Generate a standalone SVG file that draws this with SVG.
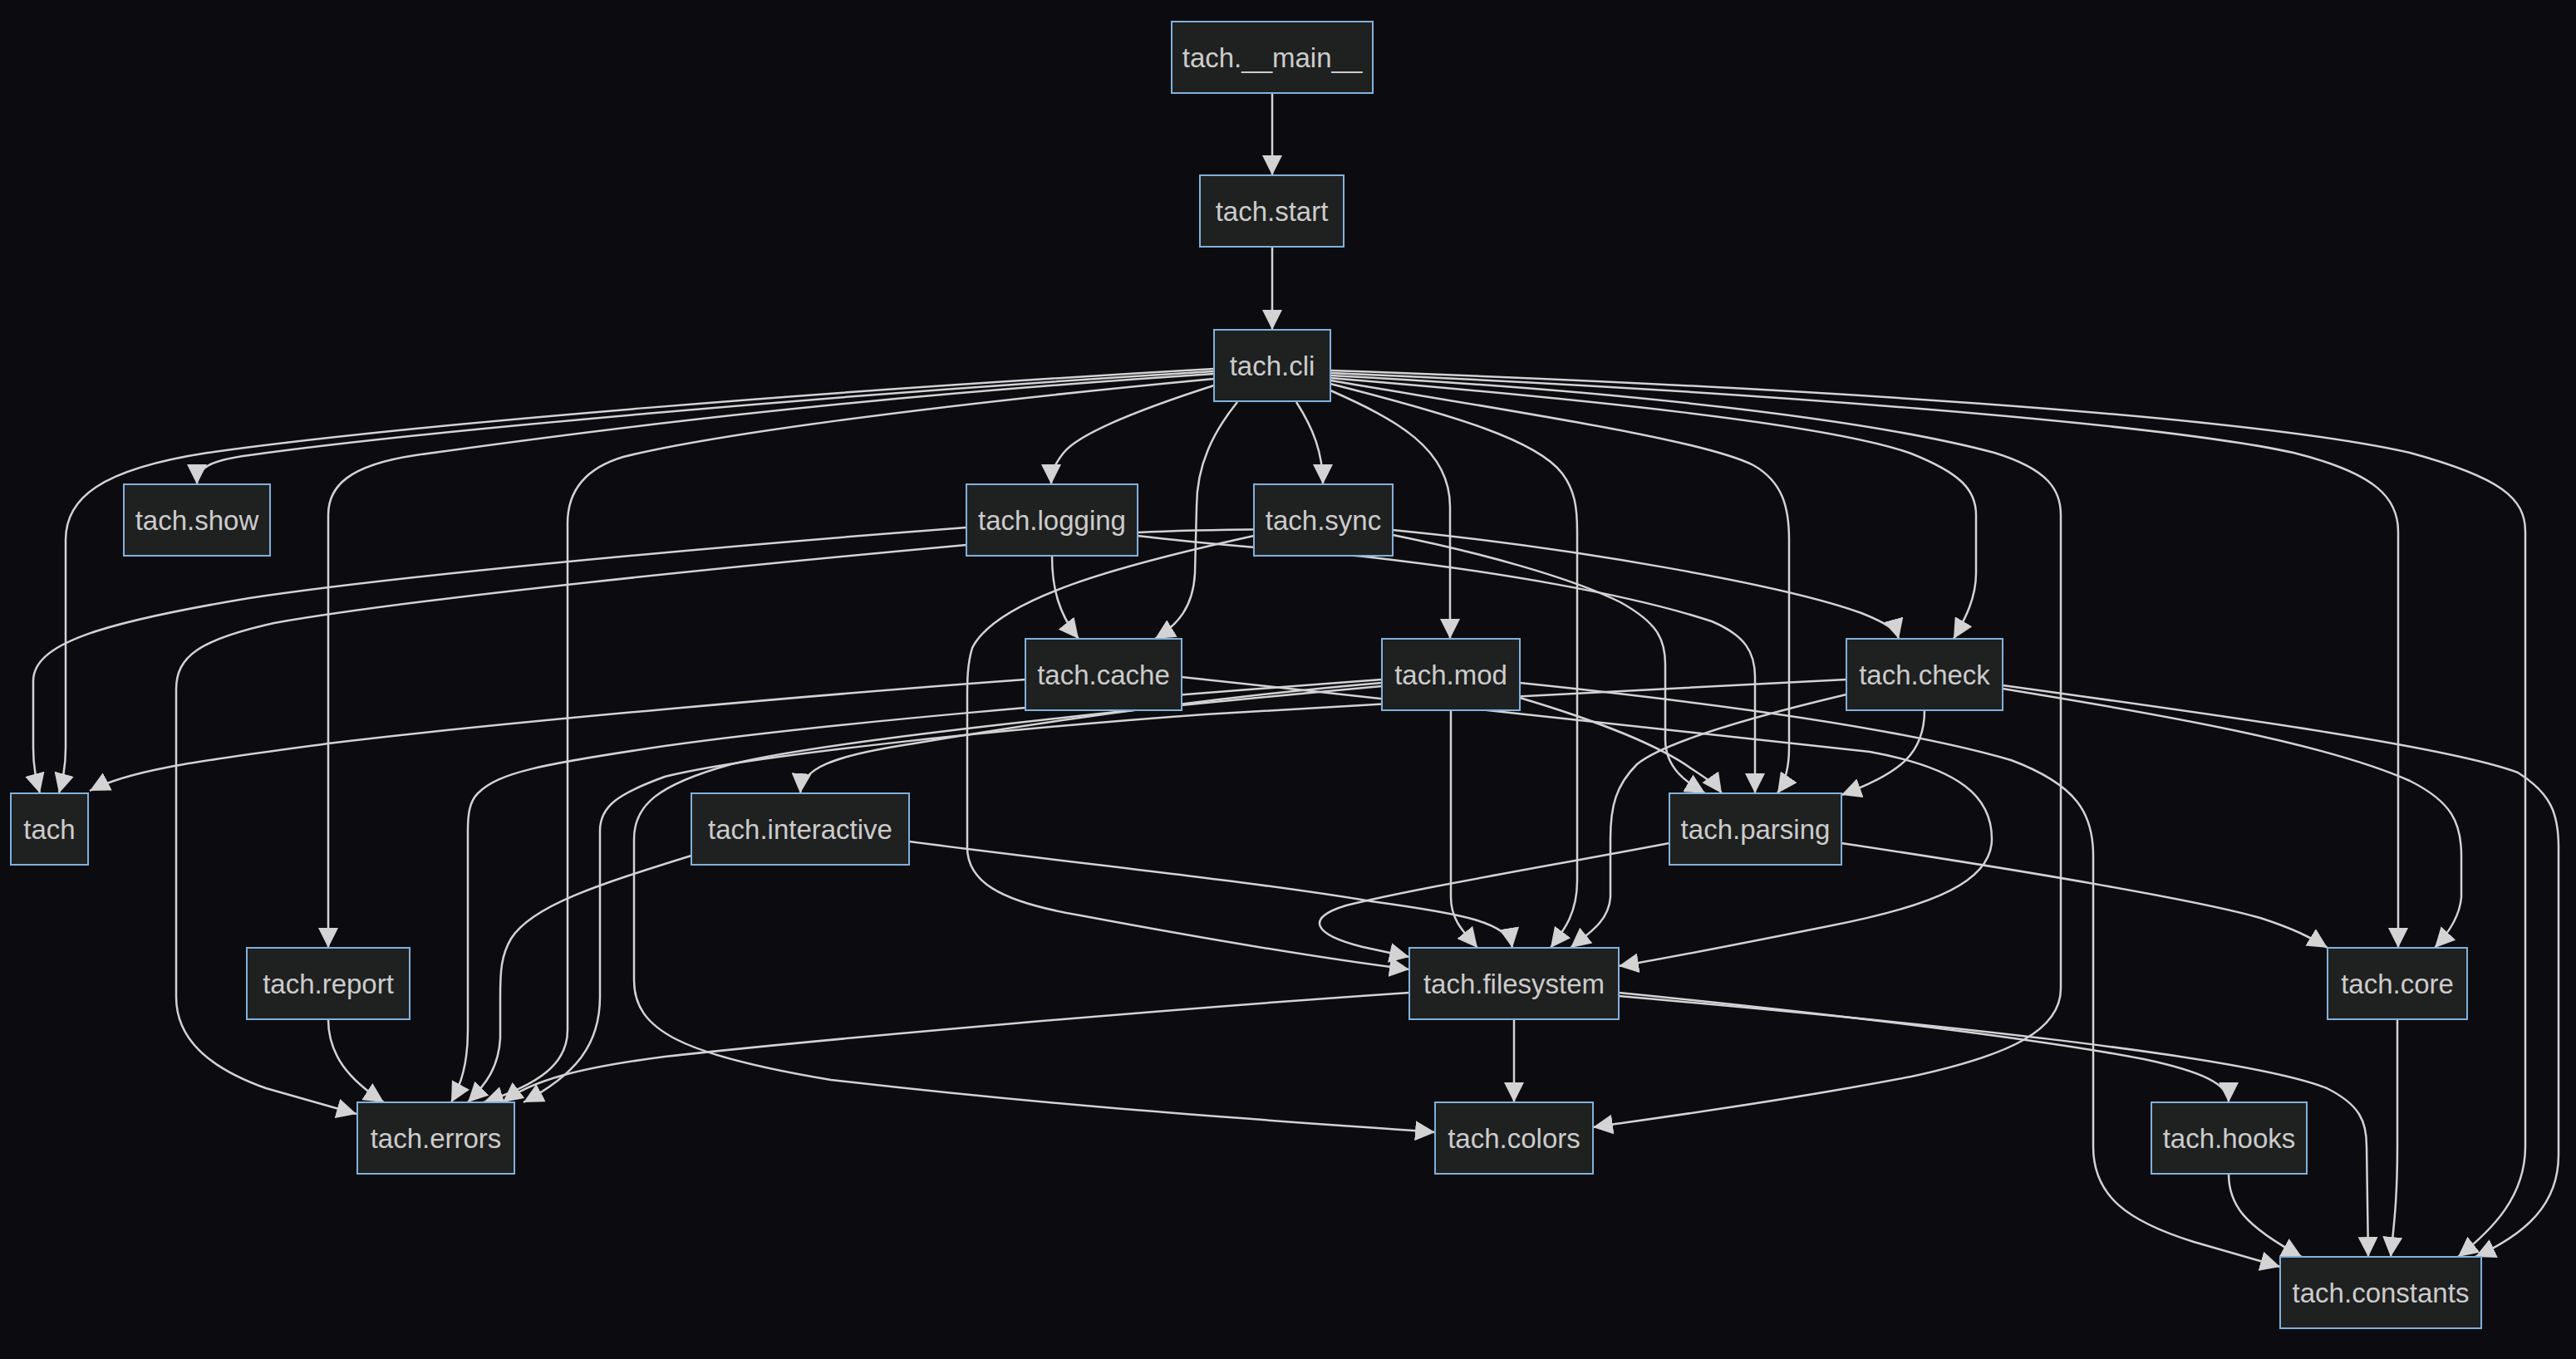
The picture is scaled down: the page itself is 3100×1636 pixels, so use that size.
<svg xmlns="http://www.w3.org/2000/svg" width="3100" height="1636" viewBox="0 0 3100 1636">
<defs>
<marker id="arrow" viewBox="0 0 12 12" refX="12" refY="6" markerWidth="24" markerHeight="24" markerUnits="userSpaceOnUse" orient="auto"><path d="M0,0 L12,6 L0,12 z" fill="#d3d3d3"/></marker>
<style>
.edge{fill:none;stroke:#d3d3d3;stroke-width:2.5;marker-end:url(#arrow)}
.node rect{fill:#1f2020;stroke:#81b1db;stroke-width:2}
.node text{fill:#cccccc;font-family:"Trebuchet MS","Liberation Sans",Arial,sans-serif;font-size:33px;text-anchor:middle}
</style>
</defs>
<rect x="0" y="0" width="3100" height="1636" fill="#0c0c10"/>
<g id="edges">
<path class="edge" d="M1531,112 L1531,211"/>
<path class="edge" d="M1531,297 L1531,397"/>
<path class="edge" d="M1461,444 C1000,470 500,510 250,545 C120,565 79,600 79,650 L79,900 C79,925 75,940 71,955"/>
<path class="edge" d="M1461,447 C1000,475 500,520 300,548 C255,554 237,562 237,583"/>
<path class="edge" d="M1461,450 C1000,480 700,520 500,548 C420,560 395,585 395,620 L395,1141"/>
<path class="edge" d="M1461,456 C1100,490 850,525 750,550 C700,565 683,595 683,630 L683,1240 C683,1280 650,1305 582,1327"/>
<path class="edge" d="M1461,464 C1380,490 1300,520 1280,545 C1268,560 1265,570 1265,583"/>
<path class="edge" d="M1489,484 C1460,520 1440,560 1440,610 L1438,690 C1436,730 1418,752 1390,769"/>
<path class="edge" d="M1560,484 C1580,515 1592,545 1592,583"/>
<path class="edge" d="M1601,470 C1680,505 1745,540 1745,610 L1745,769"/>
<path class="edge" d="M1601,462 C1750,500 1850,530 1880,570 C1895,590 1898,610 1898,640 L1898,1060 C1898,1100 1882,1120 1866,1141"/>
<path class="edge" d="M1601,458 C1850,500 2050,530 2110,560 C2145,580 2153,610 2153,650 L2153,900 C2153,930 2146,945 2139,955"/>
<path class="edge" d="M1601,455 C1900,480 2200,510 2300,546 C2360,570 2378,590 2378,620 L2378,690 C2378,720 2365,745 2351,769"/>
<path class="edge" d="M1601,452 C1950,470 2250,505 2400,545 C2465,565 2480,590 2480,620 L2480,1190 C2480,1240 2420,1270 2300,1296 C2150,1325 2000,1345 1917,1357"/>
<path class="edge" d="M1601,449 C2100,470 2600,510 2760,545 C2860,570 2886,600 2886,640 L2886,1141"/>
<path class="edge" d="M1601,446 C2150,465 2700,500 2900,545 C3010,575 3039,600 3039,640 L3039,1380 C3039,1440 3000,1480 2958,1513"/>
<path class="edge" d="M1163,635 C900,655 500,690 300,720 C120,750 40,775 40,820 L40,900 C40,925 44,940 48,955"/>
<path class="edge" d="M1163,656 C900,680 500,720 330,750 C240,770 212,790 212,830 L212,1200 C212,1250 250,1285 320,1310 L429,1341"/>
<path class="edge" d="M1266,669 C1266,710 1275,740 1298,769"/>
<path class="edge" d="M1369,641 C1450,637 1600,636 1676,638 C1900,660 2150,705 2240,738 C2270,750 2282,758 2285,769"/>
<path class="edge" d="M1369,645 C1450,655 1560,663 1642,670 C1800,688 1960,715 2060,748 C2100,765 2112,785 2112,815 L2112,955"/>
<path class="edge" d="M1676,644 C1780,665 1890,695 1950,725 C1995,750 2004,770 2004,800 L2004,890 C2004,925 2030,942 2052,955"/>
<path class="edge" d="M1509,645 C1350,680 1200,720 1170,780 C1164,800 1164,820 1164,840 L1164,1020 C1164,1060 1200,1085 1300,1102 C1450,1130 1600,1155 1696,1167"/>
<path class="edge" d="M1234,818 C1000,835 600,870 395,895 C250,915 160,925 108,952"/>
<path class="edge" d="M1422,815 C1600,835 1900,865 2250,905 C2360,925 2397,960 2397,1010 C2397,1060 2330,1090 2200,1115 C2100,1135 2000,1155 1948,1163"/>
<path class="edge" d="M1829,822 C2100,850 2300,880 2420,915 C2500,945 2519,980 2519,1030 L2519,1380 C2519,1440 2560,1470 2640,1495 L2744,1525"/>
<path class="edge" d="M1829,840 C1930,870 2000,900 2035,925 C2055,938 2065,945 2072,955"/>
<path class="edge" d="M1663,822 C1450,840 1250,870 1100,895 C1000,910 965,925 963,955"/>
<path class="edge" d="M1663,818 C1300,845 1000,870 800,898 C650,920 600,930 575,955 C565,965 563,980 563,1000 L563,1240 C563,1280 555,1305 543,1327"/>
<path class="edge" d="M2222,818 C2000,828 1700,845 1450,860 C1200,878 900,910 800,935 C745,955 722,970 722,1000 L722,1200 C722,1260 690,1295 630,1327"/>
<path class="edge" d="M1663,826 C1400,850 1000,890 880,920 C790,945 763,970 763,1010 L763,1180 C763,1240 820,1270 1000,1300 C1300,1335 1550,1350 1727,1363"/>
<path class="edge" d="M2222,836 C2100,865 2000,895 1970,920 C1945,945 1938,970 1938,1010 L1938,1080 C1936,1110 1910,1125 1890,1141"/>
<path class="edge" d="M2316,855 C2316,905 2290,930 2216,957"/>
<path class="edge" d="M2410,829 C2600,860 2800,895 2900,940 C2950,965 2962,990 2962,1030 L2962,1080 C2960,1105 2945,1125 2930,1141"/>
<path class="edge" d="M2410,825 C2700,865 2950,900 3030,930 C3070,955 3079,980 3079,1020 L3079,1390 C3079,1450 3040,1485 2979,1513"/>
<path class="edge" d="M832,1030 C720,1065 640,1090 615,1130 C603,1150 602,1170 602,1200 L602,1250 C600,1285 585,1305 563,1327"/>
<path class="edge" d="M1094,1013 C1300,1040 1500,1060 1650,1085 C1760,1100 1815,1110 1820,1141"/>
<path class="edge" d="M2009,1015 C1850,1045 1700,1070 1620,1090 C1570,1105 1580,1125 1640,1140 L1696,1152"/>
<path class="edge" d="M2216,1015 C2450,1050 2650,1085 2720,1105 C2760,1118 2780,1128 2801,1141"/>
<path class="edge" d="M1696,1195 C1400,1215 1000,1250 800,1272 C700,1285 640,1300 605,1327"/>
<path class="edge" d="M1822,1227 L1822,1327"/>
<path class="edge" d="M1948,1195 C2200,1220 2450,1250 2580,1275 C2650,1290 2682,1305 2682,1327"/>
<path class="edge" d="M1948,1199 C2300,1230 2700,1270 2800,1310 C2840,1330 2848,1350 2848,1380 L2850,1513"/>
<path class="edge" d="M2682,1413 C2682,1450 2700,1475 2770,1513"/>
<path class="edge" d="M2885,1227 L2885,1380 C2885,1450 2880,1480 2877,1513"/>
<path class="edge" d="M395,1227 C395,1270 420,1300 462,1327"/>
<path class="edge" d="M1746,855 L1746,1080 C1746,1110 1765,1125 1778,1141"/>
</g>
<g id="node-main" class="node"><rect x="1410" y="26" width="242" height="86"/><text x="1531" y="81">tach.__main__</text></g>
<g id="node-start" class="node"><rect x="1444" y="211" width="173" height="86"/><text x="1530.5" y="266">tach.start</text></g>
<g id="node-cli" class="node"><rect x="1461" y="397" width="140" height="86"/><text x="1531" y="452">tach.cli</text></g>
<g id="node-show" class="node"><rect x="149" y="583" width="176" height="86"/><text x="237" y="638">tach.show</text></g>
<g id="node-logging" class="node"><rect x="1163" y="583" width="206" height="86"/><text x="1266" y="638">tach.logging</text></g>
<g id="node-sync" class="node"><rect x="1509" y="583" width="167" height="86"/><text x="1592.5" y="638">tach.sync</text></g>
<g id="node-cache" class="node"><rect x="1234" y="769" width="188" height="86"/><text x="1328" y="824">tach.cache</text></g>
<g id="node-mod" class="node"><rect x="1663" y="769" width="166" height="86"/><text x="1746" y="824">tach.mod</text></g>
<g id="node-check" class="node"><rect x="2222" y="769" width="188" height="86"/><text x="2316" y="824">tach.check</text></g>
<g id="node-tach" class="node"><rect x="13" y="955" width="93" height="86"/><text x="59.5" y="1010">tach</text></g>
<g id="node-interactive" class="node"><rect x="832" y="955" width="262" height="86"/><text x="963" y="1010">tach.interactive</text></g>
<g id="node-parsing" class="node"><rect x="2009" y="955" width="207" height="86"/><text x="2112.5" y="1010">tach.parsing</text></g>
<g id="node-report" class="node"><rect x="297" y="1141" width="196" height="86"/><text x="395" y="1196">tach.report</text></g>
<g id="node-filesystem" class="node"><rect x="1696" y="1141" width="252" height="86"/><text x="1822" y="1196">tach.filesystem</text></g>
<g id="node-core" class="node"><rect x="2801" y="1141" width="168" height="86"/><text x="2885" y="1196">tach.core</text></g>
<g id="node-errors" class="node"><rect x="430" y="1327" width="189" height="86"/><text x="524.5" y="1382">tach.errors</text></g>
<g id="node-colors" class="node"><rect x="1727" y="1327" width="190" height="86"/><text x="1822" y="1382">tach.colors</text></g>
<g id="node-hooks" class="node"><rect x="2589" y="1327" width="187" height="86"/><text x="2682.5" y="1382">tach.hooks</text></g>
<g id="node-constants" class="node"><rect x="2744" y="1513" width="242" height="86"/><text x="2865" y="1568">tach.constants</text></g>
</svg>
